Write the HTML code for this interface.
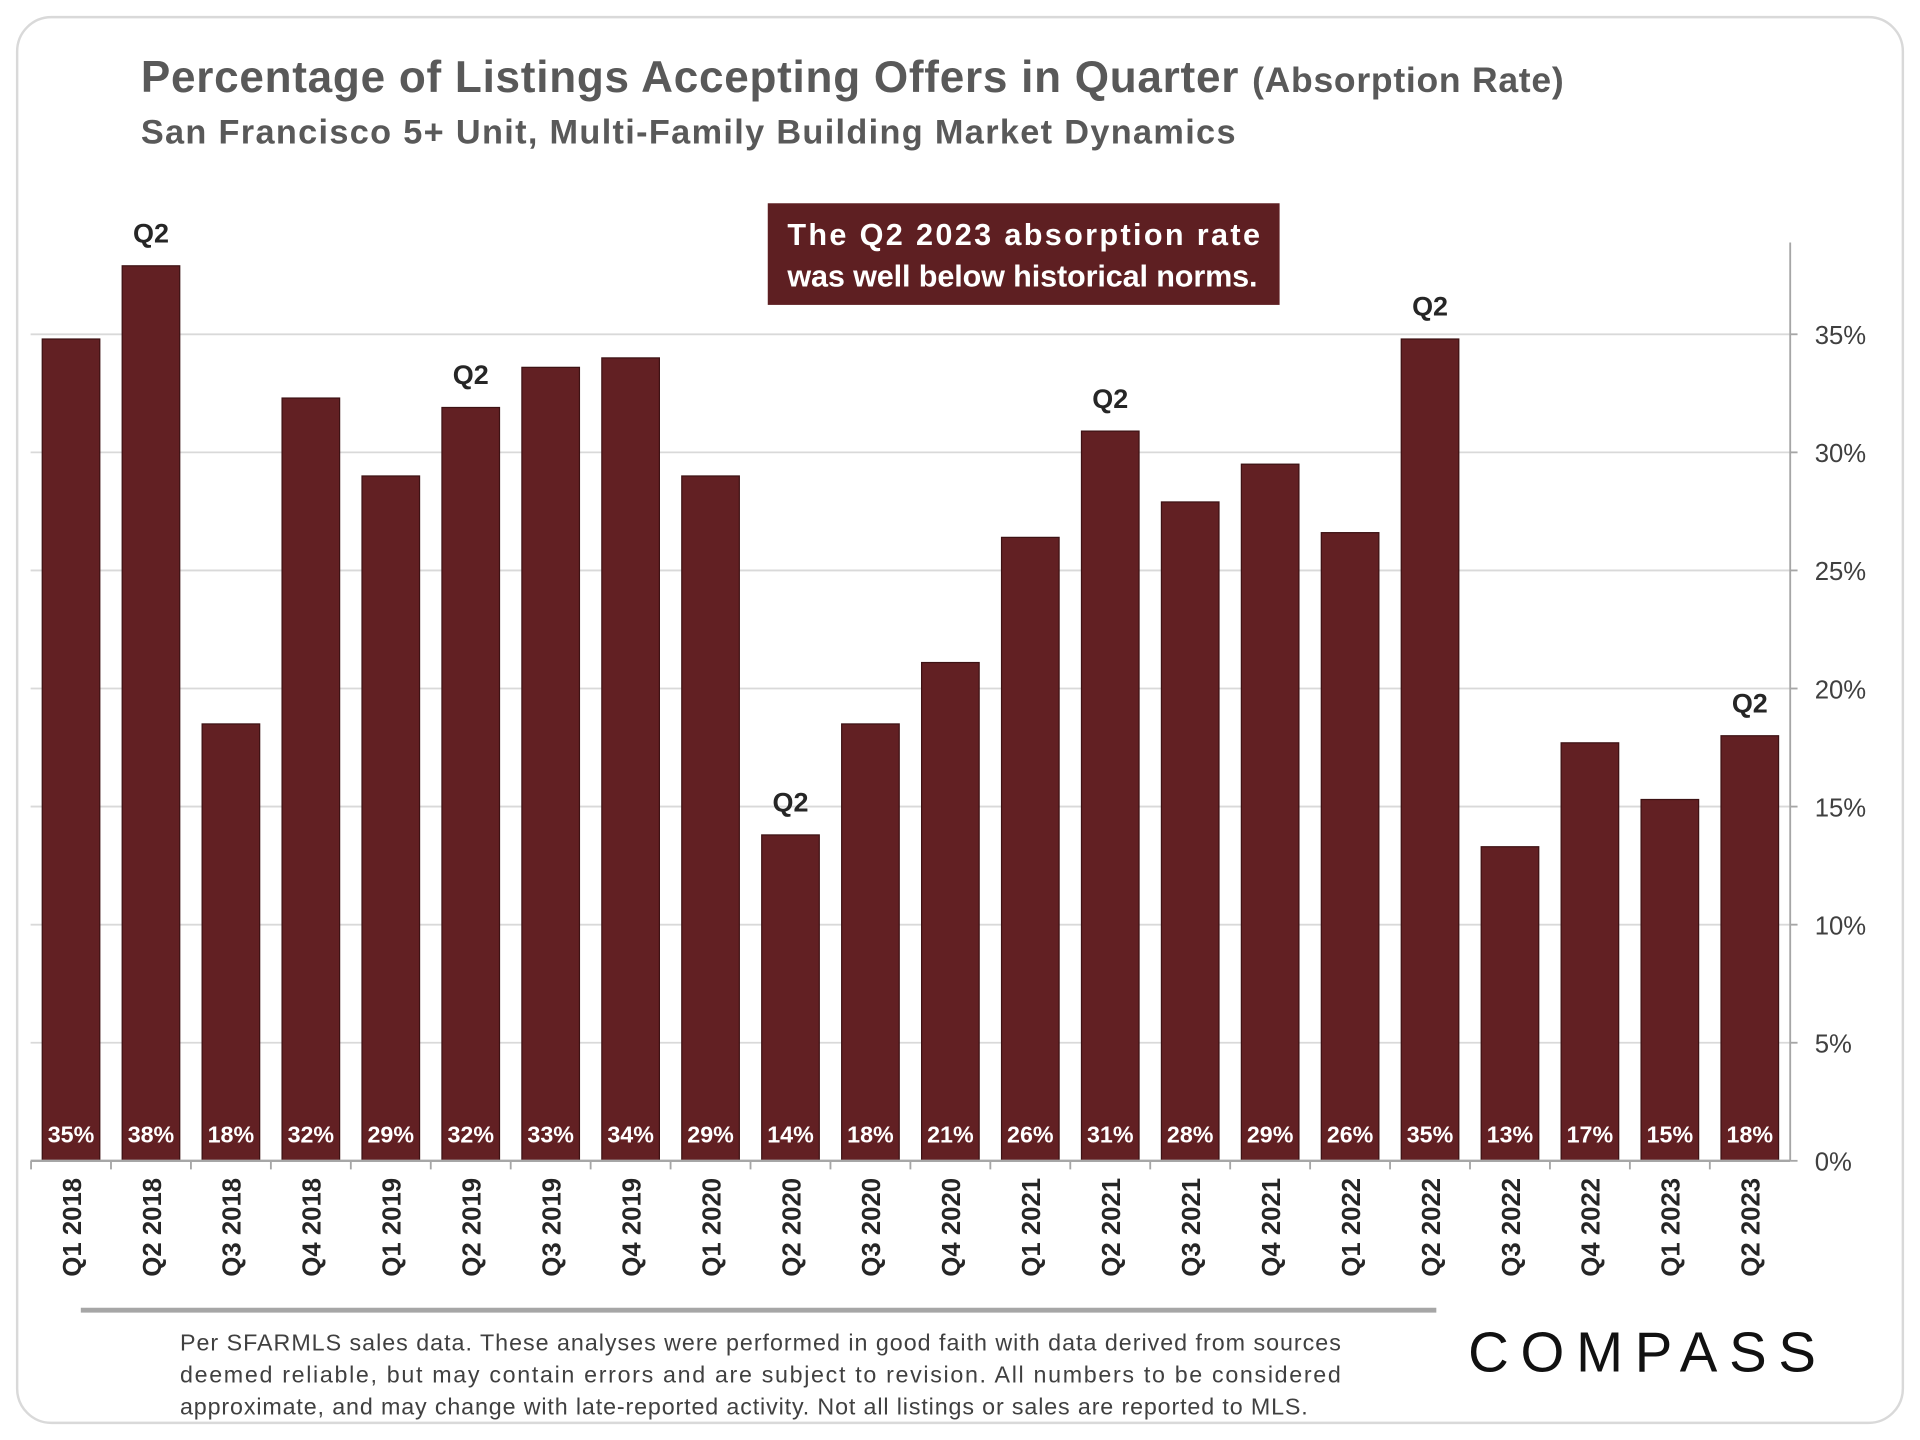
<!DOCTYPE html>
<html><head><meta charset="utf-8">
<style>
html,body{margin:0;padding:0;background:#fff;}
svg{display:block;font-family:"Liberation Sans",Calibri,sans-serif;}
</style></head>
<body>
<svg id="chart" width="1920" height="1440" viewBox="0 0 1568 1176" xmlns="http://www.w3.org/2000/svg">
  <rect x="14" y="14" width="1540" height="1148" rx="28" fill="#fff" stroke="#d9d9d9" stroke-width="2"/>
  <text x="115" y="75" font-size="36" font-weight="bold" fill="#595959" textLength="1162" lengthAdjust="spacing">Percentage of Listings Accepting Offers in Quarter <tspan font-size="29">(Absorption Rate)</tspan></text>
  <text x="115" y="117" font-size="28" font-weight="bold" fill="#595959" textLength="894" lengthAdjust="spacing">San Francisco 5+ Unit, Multi-Family Building Market Dynamics</text>
  <g id="grid"></g>
  <g id="bars"></g>
  <g id="axes"></g>
  <rect x="627" y="166" width="418" height="83" fill="#5e1f22"/>
  <text x="643" y="200" font-size="25" font-weight="bold" fill="#fff" textLength="386" lengthAdjust="spacing">The Q2 2023 absorption rate</text>
  <text x="643" y="234" font-size="25" font-weight="bold" fill="#fff" textLength="384" lengthAdjust="spacing">was well below historical norms.</text>
  <line x1="66" y1="1070" x2="1173" y2="1070" stroke="#a6a6a6" stroke-width="4"/>
  <text x="147" y="1103" font-size="19" fill="#404040" textLength="948" lengthAdjust="spacing">Per SFARMLS sales data. These analyses were performed in good faith with data derived from sources</text>
  <text x="147" y="1129" font-size="19" fill="#404040" textLength="948" lengthAdjust="spacing">deemed reliable, but may contain errors and are subject to revision. All numbers to be considered</text>
  <text x="147" y="1155" font-size="19" fill="#404040" textLength="921" lengthAdjust="spacing">approximate, and may change with late-reported activity. Not all listings or sales are reported to MLS.</text>
  <text x="1199" y="1120" font-size="46" fill="#111" textLength="284" lengthAdjust="spacing">COMPASS</text>
</svg>
<script>
const categories=["Q1 2018","Q2 2018","Q3 2018","Q4 2018","Q1 2019","Q2 2019","Q3 2019","Q4 2019","Q1 2020","Q2 2020","Q3 2020","Q4 2020","Q1 2021","Q2 2021","Q3 2021","Q4 2021","Q1 2022","Q2 2022","Q3 2022","Q4 2022","Q1 2023","Q2 2023"];
const values=[34.8,37.9,18.5,32.3,29.0,31.9,33.6,34.0,29.0,13.8,18.5,21.1,26.4,30.9,27.9,29.5,26.6,34.8,13.3,17.7,15.3,18.0];
const valueLabels=["35%","38%","18%","32%","29%","32%","33%","34%","29%","14%","18%","21%","26%","31%","28%","29%","26%","35%","13%","17%","15%","18%"];
const yTicks=[0,5,10,15,20,25,30,35];
const NS="http://www.w3.org/2000/svg";
const y0=948, pxPer=675/35, x0=58, step=(1429-58)/21, bw=47, left=25, right=1462;
const ys=v=>y0-v*pxPer, xs=i=>x0+i*step;
function mk(tag,attrs,parent,text){const e=document.createElementNS(NS,tag);for(const k in attrs)e.setAttribute(k,attrs[k]);if(text!==undefined)e.textContent=text;parent.appendChild(e);return e;}
const grid=document.getElementById('grid'),bars=document.getElementById('bars'),axes=document.getElementById('axes');
yTicks.forEach(t=>{
  if(t>0){const g=mk('line',{x1:left,x2:right,y1:ys(t),y2:ys(t),stroke:'#d9d9d9','stroke-width':1.5},grid);
  
  }
  const l=mk('text',{x:1482,y:ys(t)+8,'font-size':21,fill:'#404040'},axes,t+'%');
  
  
  const tk=mk('line',{x1:right,x2:right+6,y1:ys(t),y2:ys(t),stroke:'#a6a6a6','stroke-width':1.5},axes);
  
  
});
const ya=mk('line',{x1:right,x2:right,y1:198,y2:y0,stroke:'#a6a6a6','stroke-width':1.5},axes);


const xa=mk('line',{x1:left,x2:right,y1:y0,y2:y0,stroke:'#a6a6a6','stroke-width':2},axes);


categories.forEach((c,i)=>{
  const x=xs(i),v=values[i];
  const r=mk('rect',{x:x-bw/2,y:ys(v),width:bw,height:y0-ys(v),fill:'#622023',stroke:'#3d1214','stroke-width':1},bars);
  
  
  const vl=mk('text',{x:x,y:933,'font-size':19,'font-weight':'bold',fill:'#fff','text-anchor':'middle'},bars,valueLabels[i]);
  
  
  if(c.startsWith('Q2')){
    const q=mk('text',{x:x,y:ys(v)-19,'font-size':22,'font-weight':'bold',fill:'#262626','text-anchor':'middle'},bars,'Q2');
    
    
  }
  const tk=mk('line',{x1:x-step/2,x2:x-step/2,y1:y0,y2:y0+7,stroke:'#a6a6a6','stroke-width':1.5},axes);
  
  
  const xl=mk('text',{x:0,y:0,'font-size':21,'font-weight':'bold',fill:'#262626','text-anchor':'end',transform:`translate(${x+8},962) rotate(-90)`},axes,c);
  
  
});
</script>
</body></html>
